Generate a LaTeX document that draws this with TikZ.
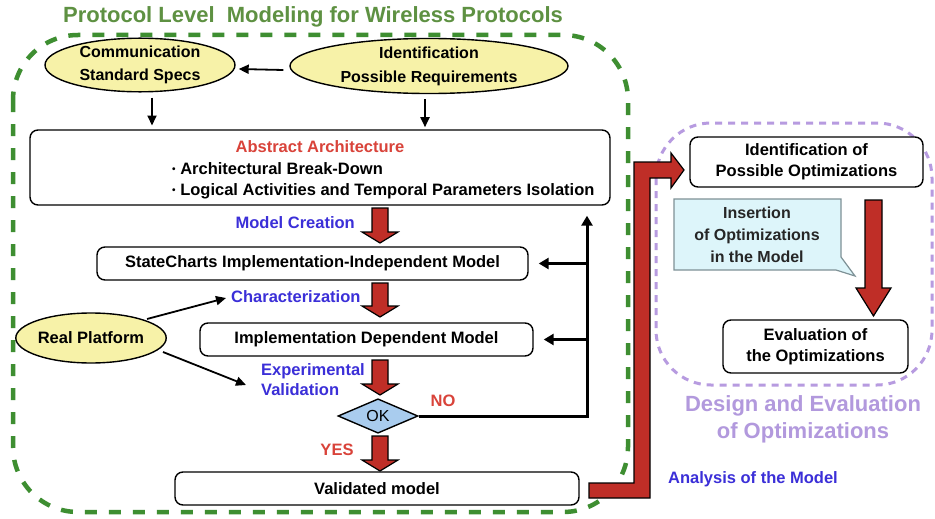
\documentclass[tikz,border=0pt]{standalone}
\usepackage{fontspec}
\setmainfont{Liberation Sans}
\usetikzlibrary{shapes.geometric,arrows.meta}
\definecolor{frgreen}{HTML}{3E8E31}
\definecolor{ttgreen}{HTML}{5E9142}
\definecolor{ellfill}{HTML}{F7F2A8}
\definecolor{blockred}{HTML}{BF2E27}
\definecolor{lblblue}{HTML}{3B2FD8}
\definecolor{lblred}{HTML}{D9433A}
\definecolor{okfill}{HTML}{A9CCEE}
\definecolor{lav}{HTML}{B79BE0}
\definecolor{lavtext}{HTML}{B299DD}
\definecolor{callfill}{HTML}{DDF5FA}
\definecolor{callline}{HTML}{7E9196}
\newcommand\blockdown[6]{%
  \draw[blk] (#1-#4,#2) -- (#1+#4,#2) -- (#1+#4,#3-#6) -- (#1+#5,#3-#6) -- (#1,#3)
    -- (#1-#5,#3-#6) -- (#1-#4,#3-#6) -- cycle;}
\newcommand\smallbul{{\fontsize{10}{10}\selectfont\raisebox{1.5pt}{•}}\ }
\begin{document}
\begin{tikzpicture}[x=1pt,y=-1pt,
  every node/.style={font=\fontsize{16.5}{21}\selectfont\bfseries, inner sep=0pt},
  box/.style={draw=black, line width=1.4pt, rounded corners=8pt, fill=white},
  ell/.style={ellipse, draw=black, line width=1.4pt, fill=ellfill},
  thinarr/.style={line width=1.8pt, -{Triangle[length=10pt,width=9pt]}},
  looparr/.style={line width=3pt, -{Triangle[length=10pt,width=11pt]}},
  blk/.style={draw=black, line width=1.2pt, fill=blockred, line join=miter},
  lblb/.style={text=lblblue},
  lblr/.style={text=lblred},
]
\useasboundingbox[fill=white] (0,0) rectangle (935,519);

% frames
\draw[frgreen, line width=4.5pt, dash pattern=on 12pt off 12pt, rounded corners=65pt]
  (13,35) rectangle (628,512);
\draw[lav, line width=3pt, dash pattern=on 7pt off 6pt, rounded corners=55pt]
  (656,123) rectangle (932,385);

% title
\node[text=ttgreen, font=\fontsize{22}{26}\selectfont\bfseries] (title) at (313,17)
  {Protocol Level\ \ Modeling for Wireless Protocols};

% top ellipses
\node[ell, minimum width=190pt, minimum height=52pt, align=center,
  font=\fontsize{16}{23}\selectfont\bfseries] (comm) at (140,65)
  {Communication\\Standard Specs};
\node[ell, minimum width=278pt, minimum height=52pt, align=center,
  font=\fontsize{16}{24}\selectfont\bfseries] (ident) at (429,66)
  {Identification\\Possible Requirements};
\draw[thinarr] ([shift={(-6,4)}]ident.west) -- ([shift={(3,4)}]comm.east);
\draw[thinarr] ([shift={(12,5)}]comm.south) -- ++(0,28);
\draw[thinarr] ([shift={(-4,5)}]ident.south) -- ++(0,28);

% abstract architecture
\node[box, minimum width=580pt, minimum height=75pt] (abs) at (320,167.5) {};
\node[lblr] (absT) at (320,147) {Abstract Architecture};
\node[anchor=west, align=left] (absB) at (172,180.5)
  {\smallbul Architectural Break-Down\\\smallbul Logical Activities and Temporal Parameters Isolation};

% main column boxes
\node[box, minimum width=431pt, minimum height=33pt] (sc) at (312.5,263.5)
  {StateCharts Implementation-Independent Model};
\node[box, minimum width=333pt, minimum height=33pt] (idm) at (366.5,339.5)
  {Implementation Dependent Model};
\node[diamond, draw=black, line width=1.4pt, fill=okfill, minimum width=80pt,
  minimum height=34pt, font=\fontsize{16}{20}\selectfont] (ok) at (378,416) {OK};
\node[box, minimum width=404pt, minimum height=33pt] (vm) at (377,488.5)
  {Validated model};

% labels
\node[lblb, anchor=east] (mc) at (355,223) {Model Creation};
\node[lblb, anchor=west] (chr) at (231,297) {Characterization};
\node[lblb, anchor=west, align=left, font=\fontsize{16.5}{20}\selectfont\bfseries] (expv) at (261,380)
  {Experimental\\Validation};
\node[lblr] (no) at (443,401) {NO};
\node[lblr] (yes) at (337,450) {YES};

% red block arrows (main column)
\blockdown{380}{208}{243}{8}{18}{11}
\blockdown{380}{283}{317}{8}{18}{11}
\blockdown{380}{360}{395}{8}{18}{11}
\blockdown{380}{436}{471}{8}{18}{11}

% real platform
\node[ell, minimum width=117pt, minimum height=50pt] (rp) at (91,338) {Real Platform};
\draw[thinarr] ([shift={(56,-19)}]rp.center) -- ([shift={(-5,1)}]chr.west);
\draw[thinarr] ([shift={(72,14)}]rp.center) -- ([shift={(-15,5)}]expv.west);

% feedback loop
\coordinate (lp) at (587,416);
\draw[looparr, shorten >=10pt] (ok.east) -- (lp) -- (lp |- abs.south);
\draw[looparr, shorten >=10pt] (lp |- sc.east) -- (sc.east);
\draw[looparr, shorten >=10pt] (lp |- idm.east) -- (idm.east);

% big L arrow
\draw[blk] (589,483) -- (634,483) -- (634,162) -- (671,162) -- (671,153) -- (684,170)
  -- (671,188) -- (671,178) -- (650,178) -- (650,498) -- (589,498) -- cycle;

% right part
\node[box, minimum width=233pt, minimum height=50pt, align=center] (io) at (806.5,162)
  {Identification of\\Possible Optimizations};
\draw[fill=callfill, draw=callline, line width=1.2pt]
  (674,199) -- (841,199) -- (841,257) -- (855,276) -- (836,270) -- (674,270) -- cycle;
\node[align=center, font=\fontsize{16}{22}\selectfont\bfseries, text=black!85] (ins) at (757,235)
  {Insertion\\of Optimizations\\in the Model};
\blockdown{873.5}{200}{316}{8.5}{17.5}{28}
\node[box, minimum width=185pt, minimum height=53pt, align=center] (ev) at (815.5,346.5)
  {Evaluation of\\the Optimizations};
\node[text=lavtext, align=center, font=\fontsize{22}{27}\selectfont\bfseries] (deo) at (803,419.5)
  {Design and Evaluation\\of Optimizations};
\node[lblb, anchor=west, font=\fontsize{16.5}{20}\selectfont\bfseries] (anm) at (668,479)
  {Analysis of the Model};
\end{tikzpicture}
\end{document}
